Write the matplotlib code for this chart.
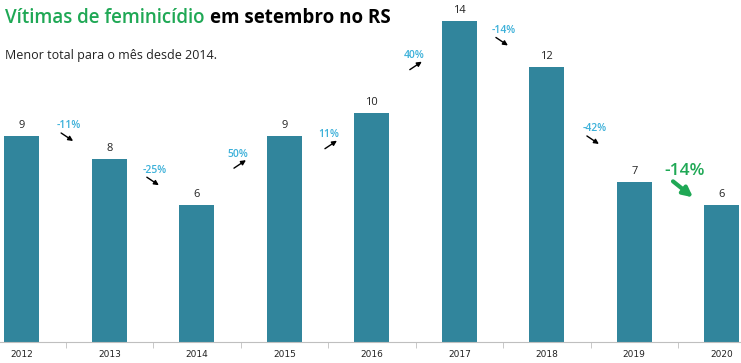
import matplotlib
matplotlib.use("Agg")
import matplotlib.pyplot as plt
from matplotlib.transforms import offset_copy

years = ["2012", "2013", "2014", "2015", "2016", "2017", "2018", "2019", "2020"]
victims = [9, 8, 6, 9, 10, 14, 12, 7, 6]

# layout: vertical position (data units) of each change label, between bars
change_label_y = [9.43, 7.5, 8.2, 9.05, 12.5, 13.6, 9.3, 7.45]
change_label_dx = [0.04, 0.02, -0.03, 0.01, -0.02, 0.01, 0.05, 0.08]

BAR = "#31859c"
CYAN = "#3bb0d9"
GREEN = "#1fa855"

plt.rcParams['font.family'] = ['Open Sans', 'DejaVu Sans']

fig = plt.figure(figsize=(7.41, 3.63), dpi=100)
ax = fig.add_axes([0, 21/363, 1, 342/363])
x = list(range(len(years)))
ax.bar(x, victims, width=0.4, color=BAR)
ax.set_xlim(-0.25, 8.22)
ax.set_ylim(0, 14.93)

for xi, v in zip(x, victims):
    ax.annotate(str(v), (xi, v), xytext=(0, 5), textcoords='offset pixels',
                ha='center', va='bottom', fontsize=8, color='#222222')

for i in range(len(victims) - 1):
    ch = (victims[i + 1] - victims[i]) / victims[i] * 100
    lbl = f"{ch:.0f}%"
    tx = i + 0.5 + change_label_dx[i]
    ty = change_label_y[i]
    last = (i == len(victims) - 2)
    col = GREEN if last else CYAN
    fs = 12.5 if last else 7.5
    ax.text(tx, ty, lbl, ha='center', va='center', fontsize=fs, color=col,
            fontweight='semibold')
    if ch < 0:
        s, e = (-8, -7), (4, -15)
    else:
        s, e = (-4, -14), (8, -6)
    if last:
        s, e = (-12, -10), (8, -26)
    trans = ax.transData
    ts = offset_copy(trans, fig=fig, x=s[0], y=s[1], units='dots')
    te = offset_copy(trans, fig=fig, x=e[0], y=e[1], units='dots')
    p0 = ts.transform((tx, ty))
    p1 = te.transform((tx, ty))
    ax.annotate('', xy=p1, xycoords='figure pixels', xytext=p0, textcoords='figure pixels',
                arrowprops=dict(arrowstyle='-|>', color=GREEN if last else 'black',
                                lw=3 if last else 1.0,
                                mutation_scale=14 if last else 7,
                                shrinkA=0, shrinkB=0))

for s in ['top', 'right', 'left']:
    ax.spines[s].set_visible(False)
ax.spines['bottom'].set_color('#bfbfbf')
ax.set_yticks([])
ax.set_xticks(x)
ax.set_xticklabels(years, fontsize=6.5, family=['Liberation Sans Narrow', 'DejaVu Sans'])
ax.tick_params(axis='x', which='major', length=0, pad=6, colors='#222222')
ax.set_xticks([i + 0.5 for i in x[:-1]], minor=True)
ax.tick_params(axis='x', which='minor', length=4, color='#bfbfbf', direction='out')

fig.text(5/741, 1 - 18/363, "Vítimas de feminicídio", fontsize=13.5, fontweight='semibold',
         color=GREEN, ha='left', va='center')
fig.canvas.draw()
bb = fig.texts[0].get_window_extent()
fig.text((bb.x1 + 6) / 741, 1 - 18/363, "em setembro no RS", fontsize=13.5, fontweight='bold',
         color='black', ha='left', va='center')
fig.text(5/741, 1 - 56/363, "Menor total para o mês desde 2014.", fontsize=9,
         color='#222222', ha='left', va='center')

fig.savefig("out.png", dpi=100)
